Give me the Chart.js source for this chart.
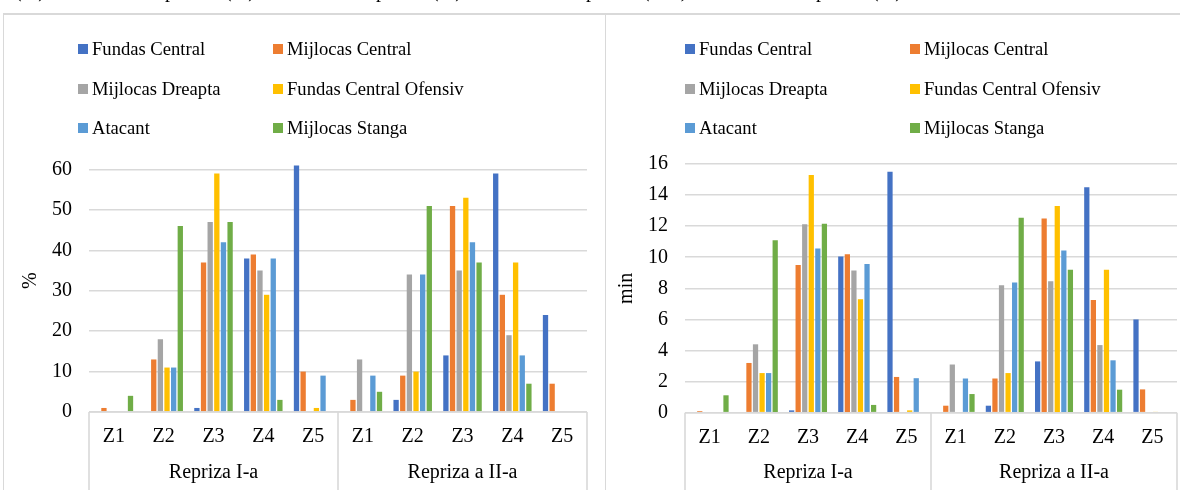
<!DOCTYPE html>
<html>
<head>
<meta charset="utf-8">
<script src="https://cdn.jsdelivr.net/npm/chart.js@4.4.1/dist/chart.umd.min.js"></script>
<style>
  html, body { margin:0; padding:0; background:#fff; }
  body { width:1180px; height:490px; overflow:hidden; position:relative; font-family:"Liberation Serif","Times New Roman",serif; }
  .box { position:absolute; border:solid #d9d9d9; box-sizing:border-box; }
  canvas { position:absolute; top:0; }
  .lg { position:absolute; font-size:18.6px; color:#000; white-space:nowrap; line-height:20px; }
  .lg i { position:absolute; width:10px; height:10px; left:-14px; top:5px; }
  .top { position:absolute; top:-20.5px; font-size:20px; line-height:20px; color:#000; }
</style>
</head>
<body>
<div class="box" style="left:3px;top:13px;width:603px;height:500px;border-width:2px 1px 0 1px;"></div>
<div class="box" style="left:605px;top:13px;width:580px;height:500px;border-width:2px 0 0 1px;"></div>
<canvas id="c1" width="605" height="490" style="left:0;width:605px;height:490px;"></canvas>
<canvas id="c2" width="575" height="490" style="left:605px;width:575px;height:490px;"></canvas>
<div id="legends"></div>
<div id="toptext"></div>
<script>
// ---- data ----
const zoneLabels = ['Z1','Z2','Z3','Z4','Z5'];
const groupLabels = ['Repriza I-a','Repriza a II-a'];
const seriesNames = ['Fundas Central','Mijlocas Central','Mijlocas Dreapta','Fundas Central Ofensiv','Atacant','Mijlocas Stanga'];
const seriesColors = ['#4472C4','#ED7D31','#A5A5A5','#FFC000','#5B9BD5','#70AD47'];

// percent chart (Z1..Z5 first half, Z1..Z5 second half)
const pctFundasCentral    = [0, 0, 1, 38, 61,   0, 3, 14, 59, 24];
const pctMijlocasCentral  = [1, 13, 37, 39, 10,  3, 9, 51, 29, 7];
const pctMijlocasDreapta  = [0, 18, 47, 35, 0,   13, 34, 35, 19, 0];
const pctFundasOfensiv    = [0, 11, 59, 29, 1,   0, 10, 53, 37, 0];
const pctAtacant          = [0, 11, 42, 38, 9,   9, 34, 42, 14, 0];
const pctMijlocasStanga   = [4, 46, 47, 3, 0,    5, 51, 37, 7, 0];

// minutes chart
const minFundasCentral    = [0, 0, 0.15, 10.05, 15.5,   0.05, 0.45, 3.3, 14.5, 6.0];
const minMijlocasCentral  = [0.1, 3.2, 9.5, 10.2, 2.3,   0.45, 2.2, 12.5, 7.25, 1.5];
const minMijlocasDreapta  = [0, 4.4, 12.12, 9.15, 0,     3.1, 8.2, 8.45, 4.35, 0];
const minFundasOfensiv    = [0, 2.55, 15.3, 7.3, 0.15,   0, 2.55, 13.3, 9.2, 0.03];
const minAtacant          = [0, 2.55, 10.57, 9.57, 2.22, 2.2, 8.37, 10.43, 3.37, 0];
const minMijlocasStanga   = [1.12, 11.1, 12.15, 0.5, 0,  1.2, 12.55, 9.2, 1.48, 0];

const pctTicks = [0,10,20,30,40,50,60];
const minTicks = [0,2,4,6,8,10,12,14,16];

const FONT = '"Liberation Serif","Times New Roman",serif';
const GRID = '#d9d9d9';

const categories = groupLabels.flatMap(() => zoneLabels);

function makeDatasets(arrs) {
  return arrs.map((d, i) => ({
    label: seriesNames[i],
    data: d,
    backgroundColor: seriesColors[i],
    borderWidth: 0,
    clip: false,
    categoryPercentage: 0.8,
    barPercentage: 0.8
  }));
}

const boxPlugin = {
  id: 'boxes',
  afterDraw(chart, args, opts) {
    const ctx = chart.ctx;
    const xs = chart.scales.x, ys = chart.scales.y;
    const ca = chart.chartArea;
    const y0 = ys.getPixelForValue(0);
    const mid = (xs.getPixelForValue(4) + xs.getPixelForValue(5)) / 2;
    ctx.save();
    ctx.strokeStyle = GRID;
    ctx.lineWidth = 1.6;
    ctx.beginPath();
    ctx.moveTo(ca.left, y0); ctx.lineTo(ca.right, y0);
    [ca.left, mid, ca.right].forEach(x => { ctx.moveTo(x, y0); ctx.lineTo(x, chart.height + 5); });
    ctx.stroke();
    ctx.fillStyle = '#000';
    ctx.font = '20px ' + FONT;
    ctx.textAlign = 'center';
    ctx.textBaseline = 'middle';
    ctx.fillText(groupLabels[0], (ca.left + mid) / 2, opts.groupY);
    ctx.fillText(groupLabels[1], (mid + ca.right) / 2, opts.groupY);
    // y axis title
    ctx.save();
    ctx.translate(opts.titleX, (ca.top + ca.bottom) / 2 + opts.titleDy);
    ctx.rotate(-Math.PI / 2);
    ctx.fillText(opts.title, 0, 0);
    ctx.restore();
    ctx.restore();
  }
};

function makeChart(id, arrs, maxV, step, cfg) {
  return new Chart(document.getElementById(id), {
    type: 'bar',
    data: { labels: categories, datasets: makeDatasets(arrs) },
    options: {
      responsive: false,
      animation: false,
      devicePixelRatio: 1,
      layout: { padding: { top: cfg.top, right: cfg.right, left: 0, bottom: 0 } },
      plugins: {
        legend: { display: false },
        tooltip: { enabled: false },
        boxes: { groupY: 473, titleX: cfg.titleX, title: cfg.title, titleDy: cfg.titleDy }
      },
      scales: {
        x: {
          type: 'category',
          grid: { display: false, drawTicks: false },
          border: { display: false },
          ticks: { color: '#000', font: { family: FONT, size: 20 }, padding: 13, maxRotation: 0, autoSkip: false },
          afterFit: s => { s.height = cfg.xh; }
        },
        y: {
          min: 0, max: maxV,
          grid: { color: GRID, lineWidth: 1.6, drawTicks: false },
          border: { display: false },
          ticks: { stepSize: step, color: '#000', font: { family: FONT, size: 20 }, padding: 17 },
          afterFit: s => { s.width = cfg.yw; }
        }
      }
    },
    plugins: [boxPlugin]
  });
}

makeChart('c1',
  [pctFundasCentral, pctMijlocasCentral, pctMijlocasDreapta, pctFundasOfensiv, pctAtacant, pctMijlocasStanga],
  pctTicks[pctTicks.length - 1], pctTicks[1] - pctTicks[0],
  { top: 169.5, right: 18, xh: 78, yw: 89, titleX: 31, title: '%', titleDy: -10 });

makeChart('c2',
  [minFundasCentral, minMijlocasCentral, minMijlocasDreapta, minFundasOfensiv, minAtacant, minMijlocasStanga],
  minTicks[minTicks.length - 1], minTicks[1] - minTicks[0],
  { top: 164, right: 3, xh: 77.3, yw: 80, titleX: 22, title: 'min', titleDy: 0 });

// ---- legends (HTML, built from the series arrays) ----
const legendCols = [[92, 287], [699, 924]];
const legendRows = [39, 79, 118];
const lg = document.getElementById('legends');
legendCols.forEach(cols => {
  seriesNames.forEach((name, i) => {
    const d = document.createElement('div');
    d.className = 'lg';
    d.style.left = cols[i % 2] + 'px';
    d.style.top = legendRows[Math.floor(i / 2)] + 'px';
    d.innerHTML = '<i style="background:' + seriesColors[i] + '"></i>';
    d.appendChild(document.createTextNode(name));
    lg.appendChild(d);
  });
});

// ---- cropped caption line at the very top ----
const topBits = [[15,'(%)'],[165,'p'],[225,'(%)'],[376,'p'],[432,'(%)'],[586,'p'],[643,'(min)'],[816,'p'],[872,'(%)']];
const tt = document.getElementById('toptext');
topBits.forEach(([x, t]) => {
  const s = document.createElement('div');
  s.className = 'top';
  s.style.left = x + 'px';
  s.textContent = t;
  tt.appendChild(s);
});
</script>
</body>
</html>
